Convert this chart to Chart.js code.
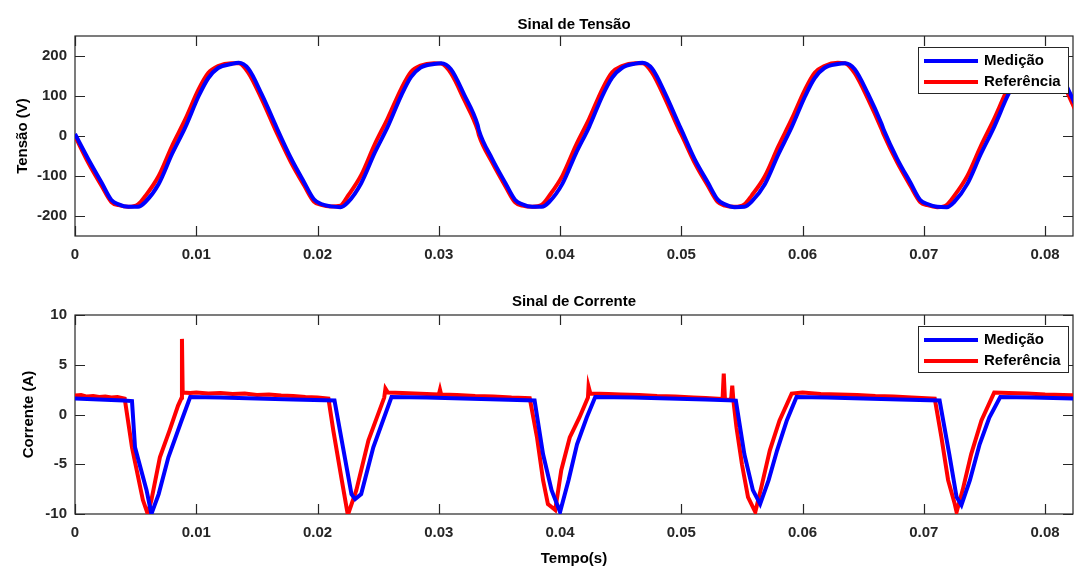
<!DOCTYPE html>
<html>
<head>
<meta charset="utf-8">
<script src="https://cdn.jsdelivr.net/npm/chart.js@4"></script>
<style>
  body { margin: 0; background: #fff; }
  #wrap { position: relative; width: 1076px; height: 568px; }
  #graficoTensao { position: absolute; left: 0; top: 0; }
  #graficoCorrente { position: absolute; left: 0; top: 280px; }
</style>
</head>
<body>
<div id="wrap">
  <canvas id="graficoTensao" width="1076" height="280"></canvas>
  <canvas id="graficoCorrente" width="1076" height="288"></canvas>
</div>
<script>
// eixos
var xTicks = [0, 0.01, 0.02, 0.03, 0.04, 0.05, 0.06, 0.07, 0.08];
var tensaoTicks = [-200, -100, 0, 100, 200];
var correnteTicks = [-10, -5, 0, 5, 10];

// tensao (tempo comum para as duas curvas)
var tempoTensao = [
  0, 0.0011, 0.0022, 0.0030, 0.0036, 0.0044, 0.0052, 0.0058, 0.0069, 0.0080, 0.0091, 0.0102, 0.0110, 0.0118, 0.0129, 0.0135, 0.0143, 0.0154, 0.0165,
  0.0167, 0.0178, 0.0189, 0.0197, 0.0203, 0.0211, 0.0219, 0.0225, 0.0236, 0.0247, 0.0258, 0.0269, 0.0277, 0.0285, 0.0296, 0.0302, 0.0310, 0.0321, 0.0332,
  0.0333, 0.0344, 0.0355, 0.0363, 0.0369, 0.0377, 0.0385, 0.0391, 0.0402, 0.0413, 0.0424, 0.0435, 0.0443, 0.0451, 0.0462, 0.0468, 0.0476, 0.0487, 0.0498,
  0.0500, 0.0511, 0.0522, 0.0530, 0.0536, 0.0544, 0.0552, 0.0558, 0.0569, 0.0580, 0.0591, 0.0602, 0.0610, 0.0618, 0.0629, 0.0635, 0.0643, 0.0654, 0.0665,
  0.0667, 0.0678, 0.0689, 0.0697, 0.0703, 0.0711, 0.0719, 0.0725, 0.0736, 0.0747, 0.0758, 0.0769, 0.0777, 0.0785, 0.0796, 0.0802, 0.0810, 0.0821, 0.0832
];
var tensaoMedicao = [
  5, -58, -117, -160, -171, -177, -177, -165, -120, -45, 22, 100, 145, 170, 180, 183, 168, 104, 30,
  16, -55, -116, -158, -170, -176, -178, -166, -118, -43, 24, 101, 147, 171, 180, 182, 167, 103, 28,
  15, -57, -118, -160, -171, -177, -177, -165, -119, -44, 23, 101, 146, 170, 181, 183, 168, 104, 29,
  16, -58, -117, -159, -171, -178, -177, -164, -120, -46, 22, 99, 145, 170, 180, 182, 167, 105, 31,
  15, -57, -117, -160, -170, -177, -178, -165, -119, -45, 23, 100, 146, 171, 180, 182, 168, 104, 29
];
var tensaoReferencia = [
  0, -67, -125, -165, -173, -177, -171, -150, -100, -25, 42, 117, 158, 175, 182, 182, 158, 92, 17,
  4, -65, -124, -164, -172, -176, -174, -150, -98, -22, 45, 118, 160, 176, 182, 181, 157, 90, 15,
  3, -66, -126, -166, -174, -177, -172, -150, -99, -24, 43, 118, 159, 175, 182, 182, 158, 91, 16,
  4, -67, -125, -165, -174, -177, -171, -149, -100, -26, 42, 116, 158, 175, 183, 182, 157, 92, 18,
  3, -66, -125, -165, -173, -178, -172, -150, -99, -25, 43, 117, 158, 175, 182, 181, 158, 91, 16
];

// corrente
var tempoCorrenteMed = [
  0, 0.0020, 0.0040, 0.0047, 0.00495, 0.0059, 0.0063, 0.0069, 0.0077, 0.0087, 0.0095, 0.0120, 0.0150, 0.0180, 0.0214,
  0.0221, 0.0228, 0.0231, 0.0236, 0.0246, 0.0261, 0.0290, 0.0320, 0.0350, 0.0379,
  0.0386, 0.0393, 0.0400, 0.0407, 0.0414, 0.0422, 0.0429, 0.0460, 0.0490, 0.0520, 0.0545,
  0.0552, 0.0559, 0.0565, 0.0572, 0.0579, 0.0587, 0.0595, 0.0620, 0.0650, 0.0680, 0.0713,
  0.0721, 0.0727, 0.0731, 0.0738, 0.0746, 0.0754, 0.0763, 0.0790, 0.0830
];
var correnteMedicao = [
  1.6, 1.5, 1.4, 1.35, -3.3, -7.6, -10.0, -8.0, -4.3, -0.9, 1.75, 1.7, 1.6, 1.5, 1.4,
  -3.3, -8.0, -8.5, -8.0, -3.3, 1.75, 1.7, 1.6, 1.5, 1.4,
  -4.0, -7.6, -9.8, -6.6, -3.0, -0.3, 1.75, 1.7, 1.6, 1.5, 1.4,
  -4.0, -7.6, -9.0, -6.6, -3.6, -0.6, 1.75, 1.7, 1.6, 1.5, 1.4,
  -4.0, -8.3, -9.1, -6.6, -3.0, -0.3, 1.75, 1.7, 1.6
];
var tempoCorrenteRef = [
  0, 0.0005, 0.0010, 0.0015, 0.0020, 0.0025, 0.0030, 0.0035, 0.0041,
  0.0047, 0.0056, 0.0060, 0.0063, 0.0070, 0.0078, 0.0085, 0.0088, 0.00882, 0.00888,
  0.0095, 0.0100, 0.0110, 0.0120, 0.0130, 0.0140, 0.0150, 0.0160, 0.0170, 0.0180, 0.0190, 0.0200, 0.0209,
  0.0213, 0.0220, 0.0225, 0.0232, 0.0242, 0.0255, 0.0256, 0.0258,
  0.0270, 0.0280, 0.0290, 0.0300, 0.0301, 0.0302, 0.0315, 0.0330, 0.0345, 0.0360, 0.0375,
  0.0381, 0.0386, 0.0390, 0.0393, 0.0396, 0.0401, 0.0408, 0.0416, 0.0423, 0.04235,
  0.0425, 0.0440, 0.0450, 0.0465, 0.0480, 0.0495, 0.0510, 0.0520, 0.0534, 0.0535, 0.0536, 0.0541, 0.0542, 0.0543,
  0.05455, 0.0550, 0.0555, 0.0561, 0.0566, 0.0573, 0.0581, 0.0591,
  0.0600, 0.0615, 0.0630, 0.0645, 0.0660, 0.0675, 0.0690, 0.0709,
  0.07145, 0.0720, 0.07255, 0.0727, 0.0732, 0.0739, 0.07475, 0.0758,
  0.0770, 0.0785, 0.0800, 0.0815, 0.0830
];
var correnteReferencia = [
  1.9, 1.95, 1.8, 1.85, 1.75, 1.8, 1.7, 1.75, 1.6,
  -3.3, -8.6, -10.0, -8.6, -4.3, -1.6, 0.9, 1.7, 7.6, 2.2,
  2.15, 2.2, 2.1, 2.15, 2.05, 2.1, 1.95, 2.0, 1.9, 1.85, 1.75, 1.7, 1.6,
  -1.6, -6.6, -10.1, -7.6, -2.6, 1.7, 2.6, 2.2,
  2.15, 2.1, 2.05, 2.0, 2.5, 2.0, 1.95, 1.85, 1.8, 1.7, 1.65,
  -2.3, -6.6, -9.0, -9.3, -9.6, -5.6, -2.3, -0.3, 1.7, 2.8,
  2.1, 2.05, 2.0, 1.95, 1.85, 1.8, 1.7, 1.65, 1.55, 4.1, 1.5, 1.45, 2.9, 1.35,
  -1.3, -5.0, -8.3, -9.8, -7.3, -3.6, -0.6, 2.1,
  2.2, 2.05, 2.0, 1.95, 1.85, 1.8, 1.7, 1.6,
  -2.3, -6.6, -9.0, -9.8, -7.6, -4.0, -0.6, 2.2,
  2.15, 2.1, 2.0, 1.95, 1.9
];

var AZUL = '#0000ff';
var VERMELHO = '#ff0000';
var EIXO = '#262626';
var FONTE = 'Liberation Sans, Arial, Helvetica, sans-serif';

function pares(xs, ys) {
  var out = [];
  for (var i = 0; i < xs.length; i++) out.push({x: xs[i], y: ys[i]});
  return out;
}

// caixa estilo matlab com ticks para dentro + legenda
var caixaMatlab = {
  id: 'caixaMatlab',
  beforeDatasetsDraw: function(chart) {
    var ctx = chart.ctx, a = chart.chartArea;
    var sx = chart.scales.x, sy = chart.scales.y;
    var yt = chart.options.plugins.caixaMatlab.yTicks;
    ctx.save();
    ctx.strokeStyle = EIXO;
    ctx.lineWidth = 1.2;
    ctx.strokeRect(a.left, a.top, a.right - a.left, a.bottom - a.top);
    ctx.beginPath();
    xTicks.forEach(function(v) {
      var px = Math.round(sx.getPixelForValue(v)) + 0.5;
      ctx.moveTo(px, a.bottom); ctx.lineTo(px, a.bottom - 10);
      ctx.moveTo(px, a.top); ctx.lineTo(px, a.top + 10);
    });
    yt.forEach(function(v) {
      var py = Math.round(sy.getPixelForValue(v)) + 0.5;
      ctx.moveTo(a.left, py); ctx.lineTo(a.left + 10, py);
      ctx.moveTo(a.right, py); ctx.lineTo(a.right - 10, py);
    });
    ctx.stroke();
    ctx.restore();
  },
  afterDraw: function(chart) {
    var ctx = chart.ctx, a = chart.chartArea;
    var bx = a.right - 155, by = a.top + 11, bw = 150, bh = 46;
    ctx.save();
    ctx.fillStyle = '#fff';
    ctx.fillRect(bx, by, bw, bh);
    ctx.strokeStyle = EIXO;
    ctx.lineWidth = 1;
    ctx.strokeRect(bx + 0.5, by + 0.5, bw, bh);
    ctx.font = 'bold 15px ' + FONTE;
    ctx.textBaseline = 'middle';
    chart.data.datasets.forEach(function(ds, i) {
      var ly = by + 14 + i * 21;
      ctx.strokeStyle = ds.borderColor;
      ctx.lineWidth = 4;
      ctx.beginPath();
      ctx.moveTo(bx + 6, ly); ctx.lineTo(bx + 60, ly);
      ctx.stroke();
      ctx.fillStyle = '#000';
      ctx.fillText(ds.label, bx + 66, ly);
    });
    ctx.restore();
  }
};

function criaGrafico(id, titulo, tituloY, tituloX, dados, yMin, yMax, yTicks, alturaX, padTitulo, padY) {
  var ctx = document.getElementById(id).getContext('2d');
  return new Chart(ctx, {
    type: 'line',
    data: { datasets: dados },
    options: {
      responsive: false,
      animation: false,
      parsing: false,
      layout: { padding: { left: 0, right: 3, top: 0, bottom: 0 } },
      elements: { point: { radius: 0 }, line: { tension: 0 } },
      plugins: {
        legend: { display: false },
        tooltip: { enabled: false },
        title: {
          display: true, text: titulo, fullSize: false, color: '#000',
          font: { family: FONTE, size: 15, weight: 'bold', lineHeight: 1.2 },
          padding: padTitulo
        },
        caixaMatlab: { yTicks: yTicks }
      },
      scales: {
        x: {
          type: 'linear', min: 0, max: 0.0823,
          afterBuildTicks: function(s) { s.ticks = xTicks.map(function(v) { return {value: v}; }); },
          afterFit: function(s) { s.height = alturaX; },
          grid: { display: false, drawTicks: false },
          border: { display: false },
          ticks: {
            color: EIXO, padding: 10, maxRotation: 0, autoSkip: false,
            font: { family: FONTE, size: 15, weight: 'bold' },
            callback: function(v) { return String(v); }
          },
          title: {
            display: !!tituloX, text: tituloX, color: '#000',
            font: { family: FONTE, size: 15, weight: 'bold', lineHeight: 1.2 },
            padding: { top: 0, bottom: 0 }
          }
        },
        y: {
          type: 'linear', min: yMin, max: yMax,
          afterBuildTicks: function(s) { s.ticks = yTicks.map(function(v) { return {value: v}; }); },
          afterFit: function(s) { s.width = 75; },
          grid: { display: false, drawTicks: false },
          border: { display: false },
          ticks: {
            color: EIXO, padding: 8, autoSkip: false,
            font: { family: FONTE, size: 15, weight: 'bold' },
            callback: function(v) { return String(v); }
          },
          title: {
            display: true, text: tituloY, color: '#000',
            font: { family: FONTE, size: 15, weight: 'bold', lineHeight: 1.2 },
            padding: { top: padY, bottom: 0 }
          }
        }
      }
    },
    plugins: [caixaMatlab]
  });
}

criaGrafico('graficoTensao', 'Sinal de Tensão', 'Tensão (V)', '', [
  { label: 'Medição', data: pares(tempoTensao, tensaoMedicao), borderColor: AZUL, borderWidth: 4, fill: false, cubicInterpolationMode: 'monotone' },
  { label: 'Referência', data: pares(tempoTensao, tensaoReferencia), borderColor: VERMELHO, borderWidth: 4, fill: false, cubicInterpolationMode: 'monotone' }
], -250, 250, tensaoTicks, 44, { top: 16, bottom: 2 }, 14);

criaGrafico('graficoCorrente', 'Sinal de Corrente', 'Corrente (A)', 'Tempo(s)', [
  { label: 'Medição', data: pares(tempoCorrenteMed, correnteMedicao), borderColor: AZUL, borderWidth: 4, fill: false },
  { label: 'Referência', data: pares(tempoCorrenteRef, correnteReferencia), borderColor: VERMELHO, borderWidth: 4, fill: false }
], -10, 10, correnteTicks, 54, { top: 13, bottom: 4 }, 20);
</script>
</body>
</html>
